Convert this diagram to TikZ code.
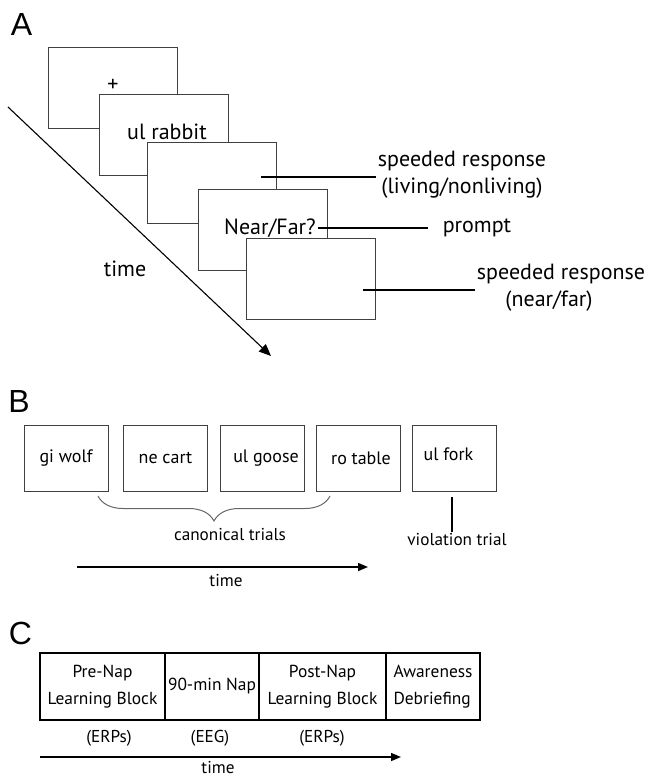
\documentclass[tikz,border=0pt]{standalone}
\usepackage{fontspec}
\setmainfont{PT Sans}
\newfontfamily\panelfont{Liberation Sans}
\usetikzlibrary{positioning,arrows.meta,decorations.pathreplacing}

\begin{document}
\begin{tikzpicture}[x=0.5pt, y=-0.5pt,
    panel/.style={font=\panelfont\fontsize{16}{18}\selectfont},
    slide/.style={draw=black!75, fill=white, line width=0.5pt, minimum width=64.5pt, minimum height=40.5pt, inner sep=0pt},
    bigtxt/.style={font=\fontsize{11}{13.5}\selectfont, align=center, inner sep=1pt},
    smalltxt/.style={font=\fontsize{8.6}{13}\selectfont, align=center, inner sep=0.5pt},
    trial/.style={draw=black!75, line width=0.5pt, minimum width=42pt, minimum height=33pt, inner sep=0pt, font=\fontsize{9}{11}\selectfont},
    block/.style={draw=black, line width=0.9pt, minimum height=33.5pt, inner sep=0pt, outer sep=0pt, align=center, font=\fontsize{8.7}{13.5}\selectfont},
    resp/.style={line width=0.9pt},
    timearrow/.style={line width=0.75pt, -{Triangle[length=5pt, width=4pt]}}]
    \useasboundingbox (0, 0) rectangle (651, 778);

    %Panel A
    \node[panel] at (21.5, 24) (lA) {A};
    \node[slide] at (112.5, 87.5) (s1) {};
    \node[bigtxt] at (113, 85) (fix) {+};
    \node[slide] at (163.5, 134.5) (s2) {};
    \node[bigtxt] at (167, 132) (cue) {ul rabbit};
    \node[slide] at (211.5, 182.5) (s3) {};
    \node[slide] at (263, 229.5) (s4) {};
    \node[bigtxt] at (270, 228) (ask) {Near/Far?};
    \node[slide] at (311, 279) (s5) {};

    \node[bigtxt] at (462, 175) (resp1) {speeded response\\(living/nonliving)};
    \node[bigtxt] at (477, 228) (prm) {prompt};
    \node[bigtxt] at (561, 288) (resp2) {speeded response\\(near/far)\hspace*{12pt}};
    \node[bigtxt] at (125, 269) (tA) {time};

    \coordinate (r1) at (261, 177);
    \coordinate (r2) at (363, 290);
    \coordinate (tA0) at (8, 107);
    \coordinate (tA1) at (271, 356);

    \draw[resp] (r1) -- (r1 -| resp1.west);
    \draw[resp] (ask.east) -- ++(110, 0) coordinate (p1);
    \draw[resp] (r2) -- (r2 -| resp2.west);
    \draw[line width=0.55pt, -{Triangle[length=6pt, width=5pt]}] (tA0) -- (tA1);

    %Panel B
    \node[panel] at (19, 401) (lB) {B};
    \node[trial] at (66, 458) (gw) {gi wolf};
    \node[trial] at (165.5, 458) (nc) {ne cart};
    \node[trial] at (262, 458) (ug) {\hspace*{4pt}ul goose};
    \node[trial] at (358, 458) (rt) {\hspace*{3pt}ro table};
    \node[trial] at (454.5, 458) (uf) {\raisebox{4pt}{ul fork}\hspace*{6pt}};

    \node[smalltxt] at (230, 535) (can) {canonical trials};
    \node[smalltxt] at (457, 540) (viol) {violation trial};
    \node[smalltxt] at (226, 581) (tB) {time};

    \coordinate (b0) at (98, 496);
    \coordinate (b1) at (330, 496);
    \coordinate (v0) at (452, 497);
    \coordinate (tB0) at (77, 567);
    \coordinate (tB1) at (368, 567);

    \draw[black!60, line width=0.5pt, decorate, decoration={brace, mirror, amplitude=12.5pt}] (b0) -- (b1);
    \draw[line width=0.7pt] (v0) -- (v0 |- viol.north);
    \draw[timearrow] (tB0) -- (tB1);

    %Panel C
    \node[panel] at (20.5, 633.5) (lC) {C};
    \node[block, minimum width=62.5pt] at (102.5, 686.5) (pre) {Pre-Nap\\Learning Block};
    \node[block, minimum width=47pt, right=0pt of pre] (nap) {90-min Nap};
    \node[block, minimum width=63.5pt, right=0pt of nap] (post) {Post-Nap\\Learning Block};
    \node[block, minimum width=47pt, right=0pt of post, align=left] (aw) {Awareness\\Debriefing};

    \node[smalltxt] at (109, 738) (e1) {(ERPs)};
    \node[smalltxt] at (210, 738) (e2) {(EEG)};
    \node[smalltxt] at (322, 738) (e3) {(ERPs)};
    \node[smalltxt] at (218, 768) (tC) {time};

    \coordinate (tC0) at (40, 757);
    \coordinate (tC1) at (401, 757);
    \draw[timearrow] (tC0) -- (tC1);

\end{tikzpicture}
\end{document}
